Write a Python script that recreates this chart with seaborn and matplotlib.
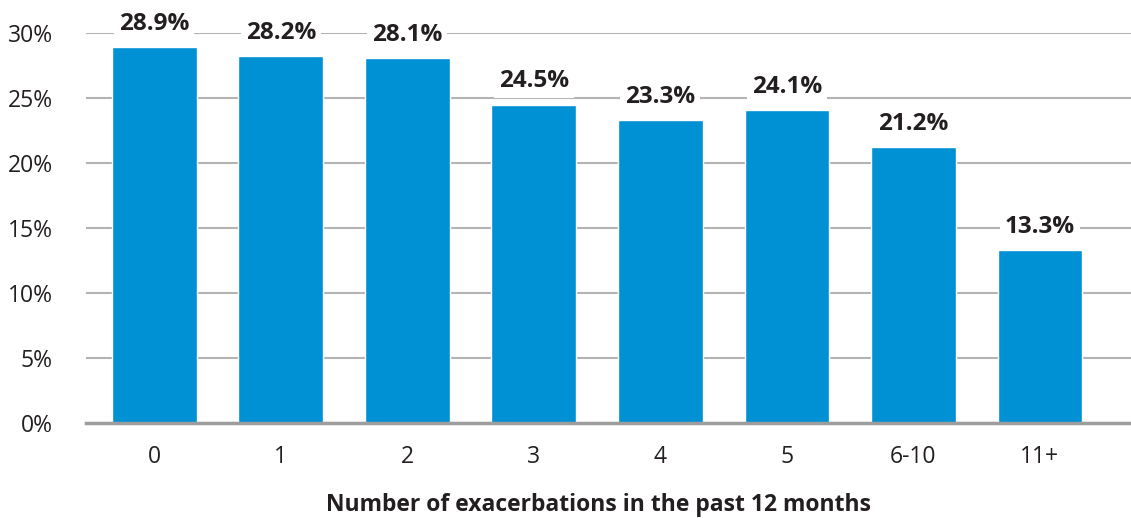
import matplotlib
matplotlib.use("Agg")
import matplotlib.pyplot as plt
import seaborn as sns
import pandas as pd

categories = ["0", "1", "2", "3", "4", "5", "6-10", "11+"]
values = [28.9, 28.2, 28.1, 24.5, 23.3, 24.1, 21.2, 13.3]
y_ticks = [0, 5, 10, 15, 20, 25, 30]
x_title = "Number of exacerbations in the past 12 months"

sns.set_theme(style="white")
plt.rcParams["font.family"] = ["Open Sans", "DejaVu Sans"]

df = pd.DataFrame({"group": categories, "share": values})

fig = plt.figure(figsize=(11.31, 5.18), dpi=100)
ax = fig.add_axes([86 / 1131, (518 - 423) / 518, 1 - 86 / 1131, (423 - 33) / 518])

sns.barplot(data=df, x="group", y="share", color="#0091d5", saturation=1,
            width=0.67, ax=ax, zorder=3)

ax.set_ylim(0, 30)
ax.set_xlim(-0.54, 7.72)
ax.set_yticks(y_ticks)
ax.set_yticklabels([f"{t}%" for t in y_ticks], fontsize=16.5, color="#231f20")
ax.tick_params(axis="y", length=0, pad=24)
ax.tick_params(axis="x", length=0, pad=16, labelsize=16.5, labelcolor="#231f20")
ax.grid(axis="y", color="#b3b3b3", linewidth=1.5, zorder=0)
ax.set_axisbelow(True)
for side in ["top", "right", "left"]:
    ax.spines[side].set_visible(False)
ax.spines["bottom"].set_color("#9d9d9d")
ax.spines["bottom"].set_linewidth(2.5)
ax.spines["bottom"].set_zorder(4)

ax.set_ylabel("")
ax.set_xlabel(x_title, fontsize=16.5, fontweight="bold", color="#231f20")
ax.xaxis.set_label_coords(512 / 1045, -(505 - 423) / 390)
ax.xaxis.label.set_va("center")

for i, v in enumerate(values):
    ax.annotate(f"{v}%", xy=(i, v), xytext=(0, 8), textcoords="offset points",
                ha="center", va="bottom", fontsize=17.5, fontweight="bold",
                color="#231f20", annotation_clip=False, zorder=5,
                bbox=dict(boxstyle="square,pad=0.2", fc="white", ec="none"))

fig.savefig("out.png", dpi=100)
